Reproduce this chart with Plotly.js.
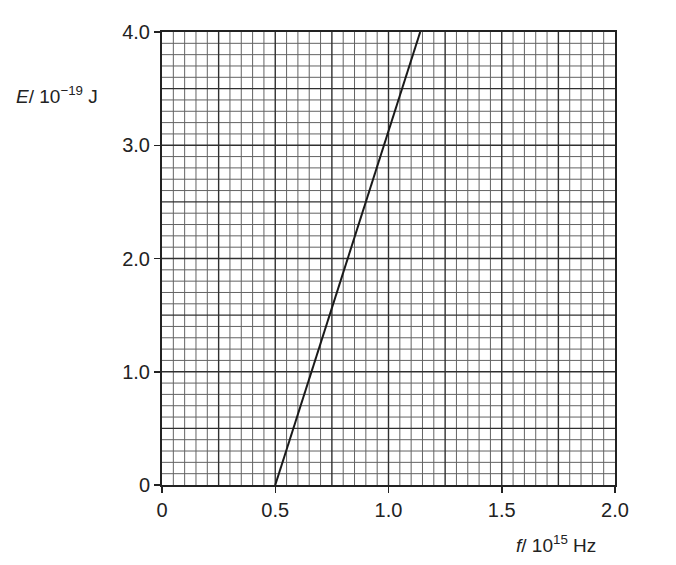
<!DOCTYPE html>
<html>
<head>
<meta charset="utf-8">
<script src="https://cdn.plot.ly/plotly-3.0.1.min.js"></script>
<style>html,body{margin:0;padding:0;background:#fff;}#chart{width:676px;height:565px;}</style>
</head>
<body>
<div id="chart"></div>
<script>
// Data
const freq = [0.5, 1.14];          // f / 10^15 Hz
const energy = [0.0, 4.0];         // E / 10^-19 J
const xTickVals = [0, 0.5, 1.0, 1.5, 2.0];
const xTickText = ["0", "0.5", "1.0", "1.5", "2.0"];
const yTickVals = [0, 1.0, 2.0, 3.0, 4.0];
const yTickText = ["0", "1.0", "2.0", "3.0", "4.0"];
const xRange = [0, 2.0];
const yRange = [0, 4.0];

const fontFam = "Liberation Sans, Arial, sans-serif";
const txtColor = "#222";

// graph-paper grid (styling): fine squares of 0.05 x 0.1, heavier every 5 squares
const xCells = 40, yCells = 40;
const minorShapes = [], majorShapes = [];
for (let i = 1; i < xCells; i++) {
  const v = xRange[0] + (xRange[1] - xRange[0]) * i / xCells;
  const s = {type: "line", xref: "x", yref: "paper", x0: v, x1: v, y0: 0, y1: 1, layer: "below",
    line: {color: i % 5 === 0 ? "#303030" : "#636363", width: i % 5 === 0 ? 1.4 : 1}};
  (i % 5 === 0 ? majorShapes : minorShapes).push(s);
}
for (let j = 1; j < yCells; j++) {
  const v = yRange[0] + (yRange[1] - yRange[0]) * j / yCells;
  const s = {type: "line", xref: "paper", yref: "y", x0: 0, x1: 1, y0: v, y1: v, layer: "below",
    line: {color: j % 5 === 0 ? "#303030" : "#636363", width: j % 5 === 0 ? 1.4 : 1}};
  (j % 5 === 0 ? majorShapes : minorShapes).push(s);
}

const data = [{
  x: freq, y: energy, type: "scatter", mode: "lines",
  line: {color: "#1a1a1a", width: 2}, hoverinfo: "skip", showlegend: false
}];

const layout = {
  width: 676, height: 565,
  margin: {l: 161.5, r: 61, t: 32, b: 80},
  paper_bgcolor: "#fff", plot_bgcolor: "#fff",
  font: {family: fontFam, size: 20, color: txtColor},
  showlegend: false,
  xaxis: {
    range: xRange, tickmode: "array", tickvals: xTickVals, ticktext: xTickText,
    ticks: "outside", ticklen: 6, tickwidth: 1.5, tickcolor: "#222",
    showgrid: false, zeroline: false,
    showline: true, linecolor: "#222", linewidth: 2, mirror: true,
    tickfont: {size: 20, color: txtColor, family: fontFam}
  },
  yaxis: {
    range: yRange, tickmode: "array", tickvals: yTickVals, ticktext: yTickText,
    ticks: "outside", ticklen: 6, tickwidth: 1.5, tickcolor: "#222",
    showgrid: false, zeroline: false,
    showline: true, linecolor: "#222", linewidth: 2, mirror: true,
    tickfont: {size: 20, color: txtColor, family: fontFam}
  },
  shapes: minorShapes.concat(majorShapes),
  annotations: [
    {text: "<i>E</i>/ 10<sup>−19</sup> J", xref: "paper", yref: "paper",
     x: -0.327, y: 0.861, xanchor: "left", yanchor: "middle", showarrow: false,
     font: {size: 19, color: txtColor, family: fontFam}},
    {text: "<i>f</i>/ 10<sup>15</sup> Hz", xref: "paper", yref: "paper",
     x: 0.962, y: -0.13, xanchor: "right", yanchor: "middle", showarrow: false,
     font: {size: 19, color: txtColor, family: fontFam}}
  ]
};

Plotly.newPlot("chart", data, layout, {displayModeBar: false, staticPlot: true});
</script>
</body>
</html>
